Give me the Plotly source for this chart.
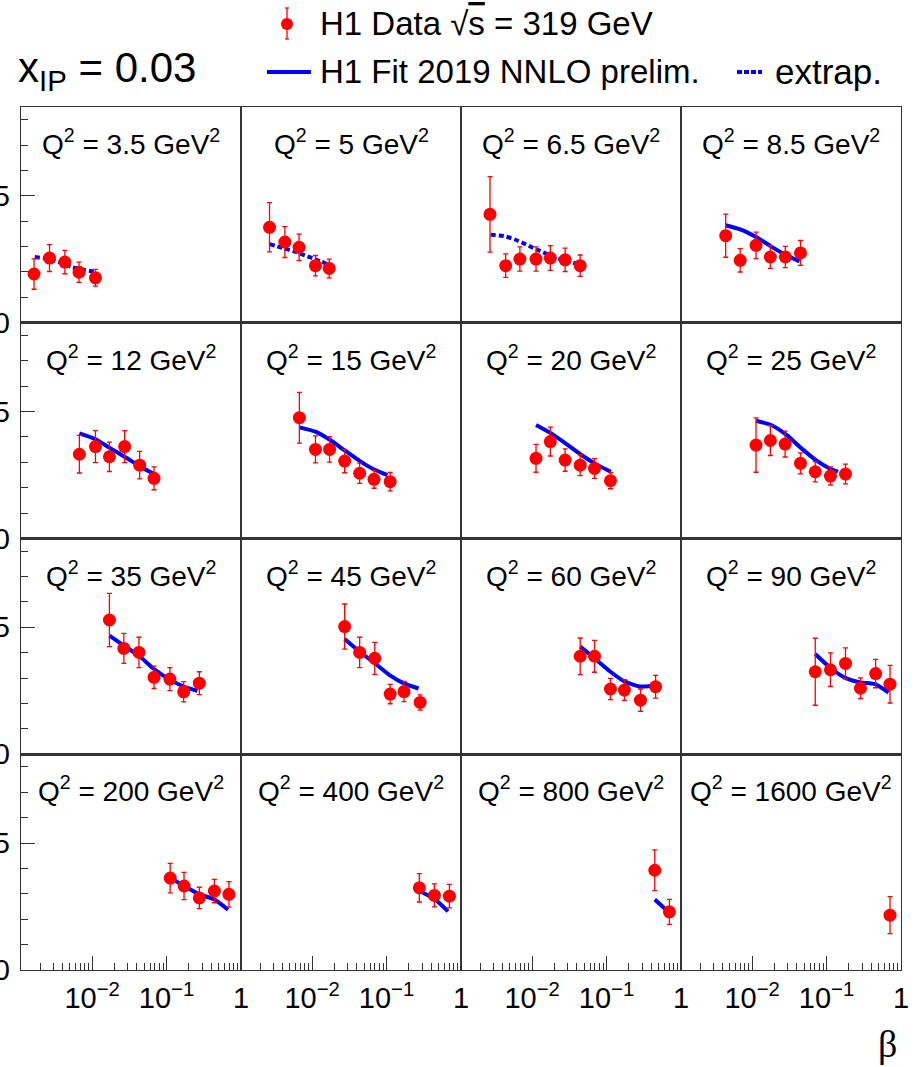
import plotly.graph_objects as go

# ---------------- data ----------------
Q2_LABELS = ["3.5", "5", "6.5", "8.5", "12", "15", "20", "25",
             "35", "45", "60", "90", "200", "400", "800", "1600"]

# H1 data points: beta, reduced cross section, uncertainty
beta_q3p5 = [0.00166, 0.00268, 0.00431, 0.00668, 0.0111]
sig_q3p5 = [0.0192, 0.0255, 0.0239, 0.0199, 0.0177]
err_q3p5 = [0.0060, 0.0053, 0.0046, 0.0040, 0.0033]

beta_q5 = [0.00268, 0.00431, 0.00668, 0.0111, 0.0170]
sig_q5 = [0.0376, 0.0318, 0.0297, 0.0225, 0.0214]
err_q5 = [0.0097, 0.0061, 0.0052, 0.0040, 0.0037]

beta_q6p5 = [0.00272, 0.00442, 0.00686, 0.0113, 0.0176, 0.0278, 0.0443]
sig_q6p5 = [0.0427, 0.0225, 0.0251, 0.0251, 0.0255, 0.0248, 0.0225]
err_q6p5 = [0.0149, 0.0046, 0.0048, 0.0048, 0.0049, 0.0046, 0.0042]

beta_q8p5 = [0.00442, 0.00692, 0.0113, 0.0176, 0.0280, 0.0447]
sig_q8p5 = [0.0343, 0.0246, 0.0305, 0.0259, 0.0259, 0.0275]
err_q8p5 = [0.0085, 0.0046, 0.0052, 0.0045, 0.0042, 0.0049]

beta_q12 = [0.00675, 0.0111, 0.0171, 0.0274, 0.0436, 0.0680]
sig_q12 = [0.0332, 0.0362, 0.0322, 0.0362, 0.0289, 0.0237]
err_q12 = [0.0074, 0.0063, 0.0058, 0.0063, 0.0054, 0.0045]

beta_q15 = [0.00675, 0.0111, 0.0172, 0.0274, 0.0436, 0.0680, 0.112]
sig_q15 = [0.0476, 0.0351, 0.0351, 0.0305, 0.0257, 0.0233, 0.0224]
err_q15 = [0.0100, 0.0053, 0.0050, 0.0046, 0.0040, 0.0035, 0.0036]

beta_q20 = [0.0113, 0.0176, 0.0278, 0.0443, 0.0690, 0.113]
sig_q20 = [0.0316, 0.0382, 0.0309, 0.0289, 0.0276, 0.0228]
err_q20 = [0.0055, 0.0057, 0.0044, 0.0041, 0.0039, 0.0032]

beta_q25 = [0.0113, 0.0176, 0.0278, 0.0447, 0.0706, 0.113, 0.180]
sig_q25 = [0.0368, 0.0386, 0.0372, 0.0296, 0.0263, 0.0246, 0.0254]
err_q25 = [0.0107, 0.0059, 0.0051, 0.0041, 0.0040, 0.0036, 0.0039]

beta_q35 = [0.0171, 0.0267, 0.0426, 0.0680, 0.111, 0.170, 0.276]
sig_q35 = [0.0529, 0.0417, 0.0401, 0.0303, 0.0296, 0.0246, 0.0280]
err_q35 = [0.0105, 0.0059, 0.0060, 0.0044, 0.0045, 0.0040, 0.0045]

beta_q45 = [0.0274, 0.0436, 0.0695, 0.112, 0.172, 0.283]
sig_q45 = [0.0503, 0.0401, 0.0378, 0.0237, 0.0247, 0.0204]
err_q45 = [0.0089, 0.0060, 0.0063, 0.0038, 0.0040, 0.0030]

beta_q60 = [0.0443, 0.0690, 0.113, 0.174, 0.286, 0.457]
sig_q60 = [0.0386, 0.0386, 0.0257, 0.0253, 0.0213, 0.0266]
err_q60 = [0.0072, 0.0063, 0.0042, 0.0041, 0.0044, 0.0045]

beta_q90 = [0.0706, 0.113, 0.180, 0.286, 0.457, 0.713]
sig_q90 = [0.0325, 0.0333, 0.0358, 0.0260, 0.0318, 0.0276]
err_q90 = [0.0132, 0.0066, 0.0061, 0.0041, 0.0056, 0.0074]

beta_q200 = [0.112, 0.172, 0.276, 0.440, 0.690]
sig_q200 = [0.0362, 0.0331, 0.0284, 0.0311, 0.0298]
err_q200 = [0.0058, 0.0054, 0.0042, 0.0046, 0.0050]

beta_q400 = [0.276, 0.440, 0.700]
sig_q400 = [0.0324, 0.0294, 0.0291]
err_q400 = [0.0056, 0.0045, 0.0046]

beta_q800 = [0.445, 0.700]
sig_q800 = [0.0393, 0.0229]
err_q800 = [0.0080, 0.0049]

beta_q1600 = [0.713]
sig_q1600 = [0.0216]
err_q1600 = [0.0073]

# H1 Fit 2019 NNLO curves: beta, value
fitb_q3p5 = [0.0017, 0.0027, 0.0039, 0.0054, 0.0068, 0.0108]
fit_q3p5 = [0.0259, 0.0250, 0.0235, 0.0219, 0.0212, 0.0201]
fitb_q5 = [0.00268, 0.0040, 0.00577, 0.00805, 0.0111, 0.0163]
fit_q5 = [0.0310, 0.0295, 0.0281, 0.0265, 0.0250, 0.0230]
fitb_q6p5 = [0.00278, 0.00426, 0.00586, 0.00834, 0.0116, 0.0238, 0.0342, 0.0443]
fit_q6p5 = [0.0347, 0.0341, 0.0328, 0.0308, 0.0288, 0.0251, 0.0238, 0.0229]
fitb_q8p5 = [0.00442, 0.00706, 0.0113, 0.0179, 0.0280, 0.0433]
fit_q8p5 = [0.0384, 0.0367, 0.0338, 0.0301, 0.0268, 0.0242]
fitb_q12 = [0.00675, 0.0111, 0.0177, 0.0280, 0.0450, 0.0680]
fit_q12 = [0.0414, 0.0391, 0.0355, 0.0320, 0.0283, 0.0254]
fitb_q15 = [0.00675, 0.0111, 0.0175, 0.0280, 0.0450, 0.0680, 0.103]
fit_q15 = [0.0438, 0.0421, 0.0388, 0.0345, 0.0303, 0.0272, 0.0250]
fitb_q20 = [0.0113, 0.0180, 0.0290, 0.0460, 0.0720, 0.114]
fit_q20 = [0.0447, 0.0414, 0.0372, 0.0329, 0.0293, 0.0263]
fitb_q25 = [0.0113, 0.0180, 0.0290, 0.0460, 0.0720, 0.110, 0.143]
fit_q25 = [0.0464, 0.0447, 0.0408, 0.0355, 0.0309, 0.0276, 0.0263]
fitb_q35 = [0.0171, 0.0267, 0.0426, 0.0680, 0.108, 0.170, 0.260]
fit_q35 = [0.0467, 0.0428, 0.0388, 0.0336, 0.0296, 0.0267, 0.0250]
fitb_q45 = [0.0274, 0.0436, 0.0695, 0.110, 0.172, 0.270]
fit_q45 = [0.0454, 0.0404, 0.0359, 0.0312, 0.0279, 0.0259]
fitb_q60 = [0.0443, 0.0690, 0.113, 0.174, 0.280, 0.425]
fit_q60 = [0.0424, 0.0378, 0.0325, 0.0287, 0.0267, 0.0270]
fitb_q90 = [0.0706, 0.115, 0.185, 0.286, 0.450, 0.680]
fit_q90 = [0.0395, 0.0338, 0.0299, 0.0283, 0.0276, 0.0243]
fitb_q200 = [0.112, 0.172, 0.276, 0.440, 0.670]
fit_q200 = [0.0364, 0.0331, 0.0298, 0.0278, 0.0238]
fitb_q400 = [0.276, 0.440, 0.670]
fit_q400 = [0.0311, 0.0280, 0.0231]
fitb_q800 = [0.445, 0.700]
fit_q800 = [0.0278, 0.0226]
fitb_q1600 = []
fit_q1600 = []

# which panels show the fit as an extrapolation (dashed)
EXTRAP = [True, True, True, False, False, False, False, False,
          False, False, False, False, False, False, False, False]

X_TICKVALS = [0.01, 0.1, 1]
X_TICKTEXT = ["10<sup>\u22122</sup>", "10<sup>\u22121</sup>", "1"]
Y_TICKVALS = [0, 0.05]
Y_TICKTEXT = ["0", "0.05"]

panels = [
    (beta_q3p5, sig_q3p5, err_q3p5, fitb_q3p5, fit_q3p5),
    (beta_q5, sig_q5, err_q5, fitb_q5, fit_q5),
    (beta_q6p5, sig_q6p5, err_q6p5, fitb_q6p5, fit_q6p5),
    (beta_q8p5, sig_q8p5, err_q8p5, fitb_q8p5, fit_q8p5),
    (beta_q12, sig_q12, err_q12, fitb_q12, fit_q12),
    (beta_q15, sig_q15, err_q15, fitb_q15, fit_q15),
    (beta_q20, sig_q20, err_q20, fitb_q20, fit_q20),
    (beta_q25, sig_q25, err_q25, fitb_q25, fit_q25),
    (beta_q35, sig_q35, err_q35, fitb_q35, fit_q35),
    (beta_q45, sig_q45, err_q45, fitb_q45, fit_q45),
    (beta_q60, sig_q60, err_q60, fitb_q60, fit_q60),
    (beta_q90, sig_q90, err_q90, fitb_q90, fit_q90),
    (beta_q200, sig_q200, err_q200, fitb_q200, fit_q200),
    (beta_q400, sig_q400, err_q400, fitb_q400, fit_q400),
    (beta_q800, sig_q800, err_q800, fitb_q800, fit_q800),
    (beta_q1600, sig_q1600, err_q1600, fitb_q1600, fit_q1600),
]

# ---------------- style ----------------
W, H = 920, 1067
ML, MR, MT, MB = 21, 19, 107, 97
PW, PH = W - ML - MR, H - MT - MB
FONT = "Liberation Sans, Arial, Helvetica, sans-serif"
FRAME = "#333333"
RED = "#ff0000"
BLUE = "#0000ff"
DASH = "5px,3px"


def px(xp):
    return (xp - ML) / PW


def py(yp):
    return (H - MB - yp) / PH


x_minor = [m * 10.0 ** e for e in (-3, -2, -1) for m in range(2, 10)]
y_minor = [0.01, 0.02, 0.03, 0.04, 0.06, 0.07, 0.08]

fig = go.Figure()
layout_axes = {}
annotations = []

for i, (b, s, e, fb, fs) in enumerate(panels):
    r, c = divmod(i, 4)
    n = i + 1
    sfx = "" if n == 1 else str(n)
    xa, ya = "x" + sfx, "y" + sfx

    if len(fb) > 0:
        fig.add_trace(go.Scatter(
            x=fb, y=fs, mode="lines", xaxis=xa, yaxis=ya,
            line=dict(color=BLUE, width=4, shape="spline", smoothing=0.6,
                      dash=DASH if EXTRAP[i] else "solid"),
            showlegend=False, hoverinfo="skip"))
    fig.add_trace(go.Scatter(
        x=b, y=s, mode="markers", xaxis=xa, yaxis=ya,
        marker=dict(color=RED, size=13),
        error_y=dict(type="data", array=e, visible=True, color=RED,
                     thickness=1.3, width=2.5),
        showlegend=False, hoverinfo="skip"))

    bottom = (r == 3)
    left = (c == 0)
    layout_axes["xaxis" + sfx] = dict(
        domain=[c / 4, (c + 1) / 4], anchor=ya, type="log",
        range=[-2.955, 0.0008], showline=True, mirror=True,
        linecolor=FRAME, linewidth=1.3, showgrid=False, zeroline=False,
        tickmode="array", tickvals=X_TICKVALS, ticktext=X_TICKTEXT,
        ticks="inside" if bottom else "", ticklen=14, tickwidth=1,
        tickcolor=FRAME, showticklabels=bottom, automargin=False,
        ticklabelstandoff=2,
        tickfont=dict(family=FONT, size=29, color="black"),
        minor=dict(tickmode="array", tickvals=x_minor,
                   ticks="inside" if bottom else "", ticklen=7,
                   tickwidth=1, tickcolor=FRAME, showgrid=False),
        fixedrange=True)
    layout_axes["yaxis" + sfx] = dict(
        domain=[1 - (r + 1) / 4, 1 - r / 4], anchor=xa,
        range=[0, 0.085], showline=True, mirror=True,
        linecolor=FRAME, linewidth=1.3, showgrid=False, zeroline=False,
        tickmode="array", tickvals=Y_TICKVALS, ticktext=Y_TICKTEXT,
        ticks="inside" if left else "", ticklen=14, tickwidth=1,
        tickcolor=FRAME, showticklabels=left, ticklabelstandoff=4,
        automargin=False,
        tickfont=dict(family=FONT, size=29, color="black"),
        minor=dict(tickmode="array", tickvals=y_minor,
                   ticks="inside" if left else "", ticklen=7,
                   tickwidth=1, tickcolor=FRAME, showgrid=False),
        fixedrange=True)

    annotations.append(dict(
        text="Q<sup>2</sup> = " + Q2_LABELS[i] + " GeV<sup>2</sup>",
        xref=xa + " domain", yref=ya + " domain", x=0.5, y=1,
        xanchor="center", yanchor="top", yshift=-15, showarrow=False,
        font=dict(family=FONT, size=28, color="black")))

# ---------------- header legend ----------------
annotations += [
    dict(text="H1 Data \u221a<span style='text-decoration:overline'>s</span> = 319 GeV",
         xref="paper", yref="paper", x=px(318), y=py(24),
         xanchor="left", yanchor="middle", showarrow=False,
         font=dict(family=FONT, size=33, color="black")),
    dict(text="x<sub>IP</sub> = 0.03",
         xref="paper", yref="paper", x=px(16), y=py(71),
         xanchor="left", yanchor="middle", showarrow=False,
         font=dict(family=FONT, size=42, color="black")),
    dict(text="H1 Fit 2019 NNLO prelim.",
         xref="paper", yref="paper", x=px(318), y=py(72),
         xanchor="left", yanchor="middle", showarrow=False,
         font=dict(family=FONT, size=33, color="black")),
    dict(text="extrap.",
         xref="paper", yref="paper", x=px(773), y=py(72),
         xanchor="left", yanchor="middle", showarrow=False,
         font=dict(family=FONT, size=35, color="black")),
    dict(text="\u03b2",
         xref="paper", yref="paper", x=px(899), y=py(1044),
         xanchor="right", yanchor="middle", showarrow=False,
         font=dict(family="Liberation Serif, DejaVu Serif, serif", size=38,
                   color="black")),
]

shapes = [
    # data marker with error bar
    dict(type="line", xref="paper", yref="paper", x0=px(287), x1=px(287),
         y0=py(8), y1=py(39), line=dict(color=RED, width=1.3)),
    dict(type="line", xref="paper", yref="paper", x0=px(285), x1=px(289),
         y0=py(8), y1=py(8), line=dict(color=RED, width=1.3)),
    dict(type="line", xref="paper", yref="paper", x0=px(285), x1=px(289),
         y0=py(39), y1=py(39), line=dict(color=RED, width=1.3)),
    dict(type="circle", xref="paper", yref="paper", x0=px(281), x1=px(293),
         y0=py(30), y1=py(18), fillcolor=RED, line=dict(color=RED, width=0)),
    # fit line
    dict(type="line", xref="paper", yref="paper", x0=px(267), x1=px(311),
         y0=py(72), y1=py(72), line=dict(color=BLUE, width=4)),
    # extrapolation line
    dict(type="line", xref="paper", yref="paper", x0=px(737), x1=px(762),
         y0=py(72), y1=py(72), line=dict(color=BLUE, width=4, dash="5px,2px")),
]

fig.update_layout(
    width=W, height=H,
    margin=dict(l=ML, r=MR, t=MT, b=MB, pad=0, autoexpand=False),
    paper_bgcolor="white", plot_bgcolor="white",
    showlegend=False,
    annotations=annotations,
    shapes=shapes,
    **layout_axes,
)

fig.write_html("out.html",
               config={"displayModeBar": False, "staticPlot": True},
               post_script="document.body.style.margin='0';"
                           "document.body.style.overflow='hidden';")
